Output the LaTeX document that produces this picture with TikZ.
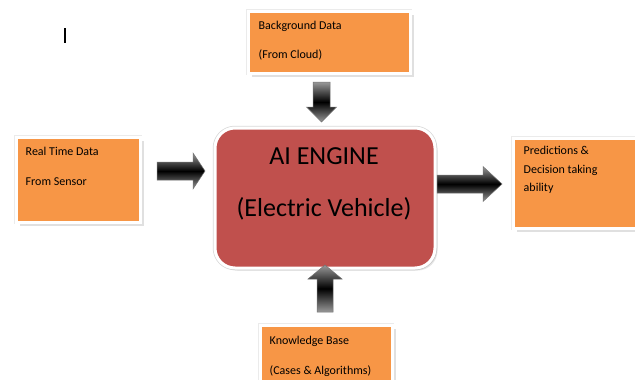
\documentclass[tikz,border=0pt]{standalone}
\usepackage{fontspec}
\setmainfont{Carlito}
\usetikzlibrary{shadows}
\definecolor{boxorange}{HTML}{F79646}
\definecolor{enginered}{HTML}{C0504D}

\tikzset{
  infobox/.style={rectangle, fill=boxorange, draw=white, line width=3pt,
    inner sep=0pt, anchor=north west,
    preaction={draw=black!8, line width=3.8pt},
    drop shadow={shadow xshift=3.5pt, shadow yshift=-3.5pt, fill=black!40, opacity=0.3}},
  enginebox/.style={rectangle, rounded corners=20pt, fill=enginered, draw=white,
    line width=3pt, inner sep=0pt, anchor=north west,
    preaction={draw=black!15, line width=4.5pt},
    drop shadow={shadow xshift=2.5pt, shadow yshift=-2.5pt, fill=black!40, opacity=0.25}},
  boxtext/.style={anchor=base west, inner sep=0pt, text=black,
    font=\fontsize{12}{14}\selectfont},
  enginetext/.style={anchor=base, inner sep=0pt, text=black,
    font=\fontsize{26}{30}\selectfont},
  arrowshade/.style={top color=black!40, bottom color=black!40, middle color=black,
    draw=black!55, line width=0.5pt},
  % block arrow: length / shaft width / head width / head length
  pics/blockarrow/.style n args={4}{code={
    \shade[arrowshade] (0,-#2/2) -- (#1-#4,-#2/2) -- (#1-#4,-#3/2) -- (#1,0)
      -- (#1-#4,#3/2) -- (#1-#4,#2/2) -- (0,#2/2) -- cycle;}}
}

\begin{document}
\begin{tikzpicture}[x=1pt,y=-1pt]
  \fill[white] (0,0) rectangle (635,380);
  \useasboundingbox (0,0) rectangle (635,380);

  % text cursor mark
  \draw[line width=1.3pt] (65,28) -- (65,43);

  % boxes
  \node[infobox, minimum width=162pt, minimum height=62pt] (bg) at (246.5,9.5) {};
  \node[infobox, minimum width=124pt, minimum height=85pt] (rt) at (14.5,135.5) {};
  \node[infobox, minimum width=124pt, minimum height=90pt] (pd) at (511.5,136.5) {};
  \node[infobox, minimum width=132pt, minimum height=70pt] (kb) at (258.5,323.5) {};
  \node[enginebox, minimum width=220pt, minimum height=140pt] (eng) at (213.5,126.5) {};

  % box texts
  \node[boxtext] (bg1) at ([shift={(12,20)}]bg.north west) {Background Data};
  \node[boxtext] (bg2) at ([shift={(12,49)}]bg.north west) {(From Cloud)};
  \node[boxtext] (rt1) at ([shift={(11,20)}]rt.north west) {Real Time Data};
  \node[boxtext] (rt2) at ([shift={(11,50)}]rt.north west) {From Sensor};
  \node[boxtext] (pd1) at ([shift={(12,18)}]pd.north west) {Predictions \&};
  \node[boxtext] (pd2) at ([shift={(12,37)}]pd.north west) {Decision taking};
  \node[boxtext] (pd3) at ([shift={(12,55)}]pd.north west) {ability};
  \node[boxtext] (kb1) at ([shift={(11,21)}]kb.north west) {Knowledge Base};
  \node[boxtext] (kb2) at ([shift={(11,51)}]kb.north west) {(Cases \& Algorithms)};

  \node[enginetext] (e1) at ([shift={(-1,-34)}]eng.center) {AI ENGINE};
  \node[enginetext] (e2) at ([shift={(-1,18)}]eng.center) {(Electric Vehicle)};

  % block arrows into and out of the engine
  \pic at (157,171) {blockarrow={48}{18}{36}{12}};
  \pic at (437,184) {blockarrow={65}{18}{35}{19}};
  \pic[rotate=-90] at (321.5,82) {blockarrow={40}{17}{30}{15}};
  \pic[rotate=90] at (325,312) {blockarrow={47}{16}{34}{14}};
\end{tikzpicture}
\end{document}
